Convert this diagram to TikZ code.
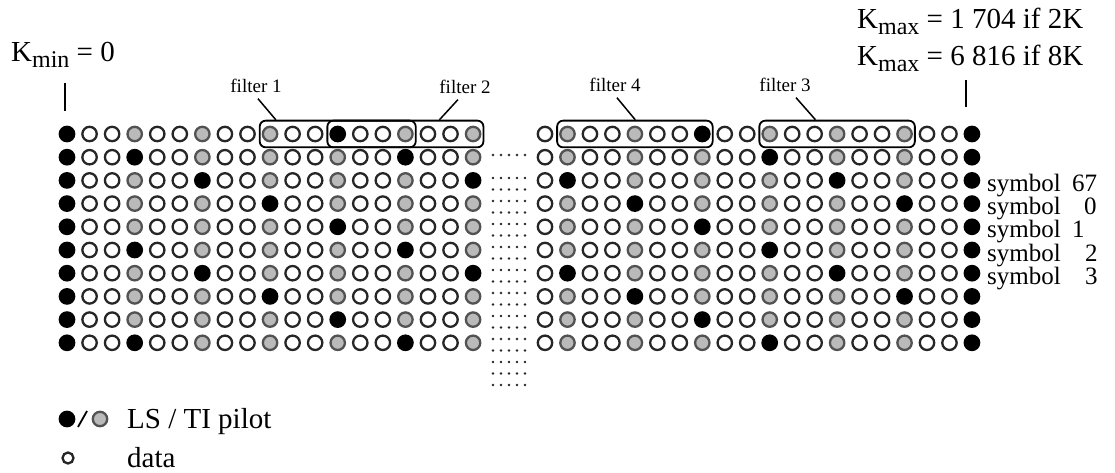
\documentclass[tikz,border=0pt]{standalone}
\usepackage{fontspec}
\setmainfont{Liberation Serif}
\usetikzlibrary{fit,calc}

% one row of carriers: #1 row index, #2 y position, #3 left block, #4 right block
\newcommand\carrierrow[4]{%
  \foreach \s [count=\k from 0] in #3{%
    \edef\tmp{\noexpand\node[dot\s] (L-#1-\k) at ({67+22.56*\k},#2) {};}\tmp}%
  \foreach \s [count=\k from 0] in #4{%
    \edef\tmp{\noexpand\node[dot\s] (R-#1-\k) at ({545+22.47*\k},#2) {};}\tmp}%
}

\begin{document}
\begin{tikzpicture}[x=1pt,y=-1pt,
  dotO/.style={circle,inner sep=0pt,minimum size=14.4pt,line width=2.3pt,draw=black!85,fill=white},
  dotG/.style={dotO,draw=black!68,fill=black!27},
  dotB/.style={dotO,draw=black,fill=black},
  filterbox/.style={draw,line width=1.8pt,rounded corners=6pt,inner xsep=2pt,inner ysep=5pt},
  flabel/.style={inner sep=3pt,font=\fontsize{19}{19}\selectfont},
  bigtext/.style={inner sep=0pt,font=\fontsize{29}{29}\selectfont},
  symtext/.style={inner sep=0pt,font=\fontsize{25}{25}\selectfont},
  kline/.style={line width=1.8pt},
  pinline/.style={line width=1.5pt,shorten <=3pt}
]
\path[use as bounding box] (0,0) rectangle (1115,473);

% pilot pattern, repeating every four symbols
\def\PLa{B,O,O,G,O,O,G,O,O,G,O,O,B,O,O,G,O,O,G}
\def\PLb{B,O,O,B,O,O,G,O,O,G,O,O,G,O,O,B,O,O,G}
\def\PLc{B,O,O,G,O,O,B,O,O,G,O,O,G,O,O,G,O,O,B}
\def\PLd{B,O,O,G,O,O,G,O,O,B,O,O,G,O,O,G,O,O,G}
\def\PRa{O,G,O,O,G,O,O,B,O,O,G,O,O,G,O,O,G,O,O,B}
\def\PRb{O,G,O,O,G,O,O,G,O,O,B,O,O,G,O,O,G,O,O,B}
\def\PRc{O,B,O,O,G,O,O,G,O,O,G,O,O,B,O,O,G,O,O,B}
\def\PRd{O,G,O,O,B,O,O,G,O,O,G,O,O,G,O,O,B,O,O,B}

\carrierrow{1}{134.0}{\PLa}{\PRa}
\carrierrow{2}{157.2}{\PLb}{\PRb}
\carrierrow{3}{180.4}{\PLc}{\PRc}
\carrierrow{4}{203.6}{\PLd}{\PRd}
\carrierrow{5}{226.8}{\PLa}{\PRa}
\carrierrow{6}{250.0}{\PLb}{\PRb}
\carrierrow{7}{273.2}{\PLc}{\PRc}
\carrierrow{8}{296.4}{\PLd}{\PRd}
\carrierrow{9}{319.6}{\PLa}{\PRa}
\carrierrow{10}{342.8}{\PLb}{\PRb}

% elided carriers between the two blocks
\foreach \xx in {493,501,509,517,525}{
  \fill[black!85] (\xx,155) circle (1.3);
  \foreach \j in {0,...,18}
    \fill[black!85] (\xx,{178+11.5*\j}) circle (1.3);
}

% interpolation filters
\node[filterbox,fit=(L-1-9)(L-1-15)] (f1) {};
\node[filterbox,fit=(L-1-12)(L-1-18)] (f2) {};
\node[filterbox,fit=(R-1-1)(R-1-7)] (f4) {};
\node[filterbox,fit=(R-1-10)(R-1-16)] (f3) {};

\node[flabel,anchor=base] (f1lab) at (256,93) {filter 1};
\node[flabel,anchor=base] (f2lab) at (465,94) {filter 2};
\node[flabel,anchor=base] (f4lab) at (615,92) {filter 4};
\node[flabel,anchor=base] (f3lab) at (785,92) {filter 3};

\coordinate (f1pin) at ($(f1.north west)+(17,0)$);
\coordinate (f2pin) at ($(f2.north west)+(113,0)$);
\coordinate (f4pin) at ($(f4.north west)+(79,0)$);
\coordinate (f3pin) at ($(f3.north west)+(57,0)$);

\draw[pinline] (f1lab.south) -- (f1pin);
\draw[pinline] ($(f2lab.south)+(-5,0)$) -- (f2pin);
\draw[pinline] (f4lab.south) -- (f4pin);
\draw[pinline] ($(f3lab.south)+(9,0)$) -- (f3pin);

% band edges
\node[bigtext,anchor=base west] (kmin) at (11,62)
  {K\raisebox{-6pt}{\fontsize{24}{24}\selectfont min} = 0};
\node[bigtext,anchor=base west] (kmax1) at (857,29)
  {K\raisebox{-6pt}{\fontsize{24}{24}\selectfont max} = 1 704 if 2K};
\node[bigtext,anchor=base west] (kmax2) at (857,66)
  {K\raisebox{-6pt}{\fontsize{24}{24}\selectfont max} = 6 816 if 8K};
\draw[kline] (65,83) -- (65,111);
\draw[kline] (966,80) -- (966,107);

% symbol numbers
\foreach \r/\n/\nx in {3/67/1072,4/0/1084,5/1/1072,6/2/1085,7/3/1085}{
  \node[symtext,anchor=base west] (sym\r) at (987,{134+23.2*(\r-1)+11}) {symbol};
  \node[symtext,anchor=base west] (num\r) at (\nx,{134+23.2*(\r-1)+11}) {\n};
}

% legend
\node[dotB] (lgB) at (67,419) {};
\node[dotG] (lgG) at (100,419) {};
\draw[line width=1.8pt] (78,427) -- (87,411);
\node[bigtext,anchor=base west] (lgpilot) at (127,428) {LS / TI pilot};
\node[dotO,minimum size=11pt] (lgO) at (68,458) {};
\node[bigtext,anchor=base west] (lgdata) at (127,467) {data};
\end{tikzpicture}
\end{document}
